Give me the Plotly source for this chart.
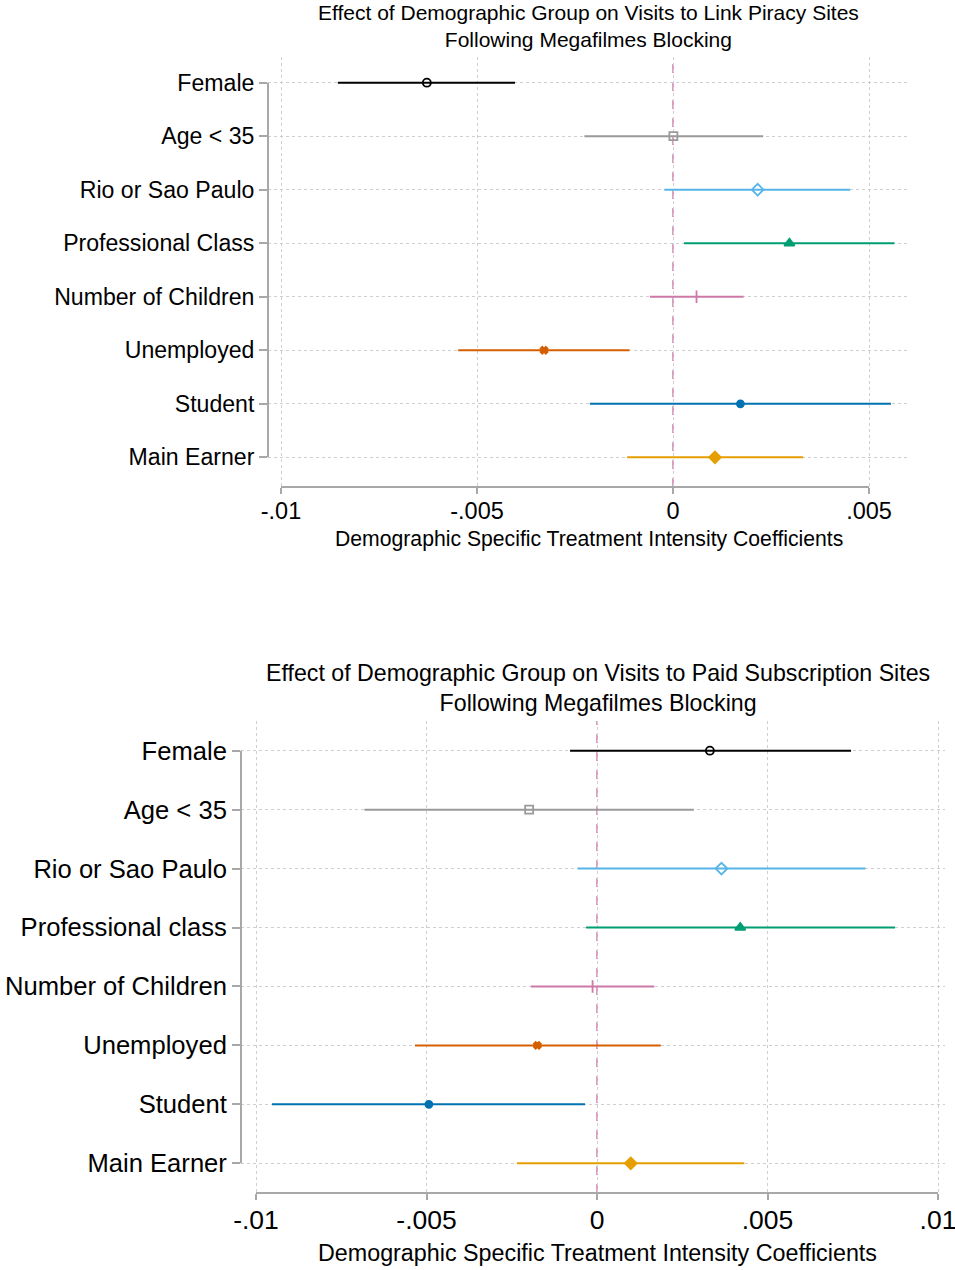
import plotly.graph_objects as go

# ---------------- data ----------------
categories_top = ["Female", "Age < 35", "Rio or Sao Paulo", "Professional Class",
                  "Number of Children", "Unemployed", "Student", "Main Earner"]
coef_top = [-0.00628, 0.00001, 0.00216, 0.00297, 0.00060, -0.00329, 0.00172, 0.00107]
lo_top = [-0.00855, -0.00226, -0.00022, 0.00028, -0.00059, -0.00548, -0.00212, -0.00117]
hi_top = [-0.00403, 0.00230, 0.00452, 0.00565, 0.00180, -0.00111, 0.00556, 0.00332]

categories_bot = ["Female", "Age < 35", "Rio or Sao Paulo", "Professional class",
                  "Number of Children", "Unemployed", "Student", "Main Earner"]
coef_bot = [0.00331, -0.00199, 0.00365, 0.00420, -0.00013, -0.00175, -0.00493, 0.00099]
lo_bot = [-0.00079, -0.00682, -0.00057, -0.00032, -0.00194, -0.00534, -0.00953, -0.00235]
hi_bot = [0.00745, 0.00284, 0.00787, 0.00874, 0.00168, 0.00187, -0.00035, 0.00432]

x_ticks_top = [-0.01, -0.005, 0, 0.005]
x_ticklabels_top = ["-.01", "-.005", "0", ".005"]
x_ticks_bot = [-0.01, -0.005, 0, 0.005, 0.01]
x_ticklabels_bot = ["-.01", "-.005", "0", ".005", ".01"]

title_top = "Effect of Demographic Group on Visits to Link Piracy Sites<br>Following Megafilmes Blocking"
title_bot = "Effect of Demographic Group on Visits to Paid Subscription Sites<br>Following Megafilmes Blocking"
x_title = "Demographic Specific Treatment Intensity Coefficients"

# ---------------- styles ----------------
colors = ["#000000", "#9a9a9a", "#56B4E9", "#009E73", "#CC79A7", "#D55E00", "#0072B2", "#E69F00"]
symbols = ["circle-open", "square-open", "diamond-open", "triangle-up", "line-ns",
           "x", "circle", "diamond"]
sizes = [8, 8, 9, 9, 9, 6, 7, 9]

W, H = 955, 1270
FONT = "Liberation Sans, Arial, sans-serif"
AX_GRAY = "#a8a8a8"
GRID = "#cfcfcf"

fig = go.Figure()

def add_panel(cats, coef, lo, hi, xa, ya):
    n = len(cats)
    for i in range(n):
        ypos = n - i
        fig.add_trace(go.Scatter(
            x=[coef[i]], y=[ypos], mode="markers",
            xaxis=xa, yaxis=ya, showlegend=False,
            marker=dict(symbol=symbols[i], size=sizes[i], color=colors[i],
                        line=dict(color=colors[i], width=1.8)),
            error_x=dict(type="data", symmetric=False,
                         array=[hi[i] - coef[i]], arrayminus=[coef[i] - lo[i]],
                         width=0, thickness=2, color=colors[i]),
        ))

add_panel(categories_top, coef_top, lo_top, hi_top, "x", "y")
add_panel(categories_bot, coef_bot, lo_bot, hi_bot, "x2", "y2")

def px_x(p):
    return p / W

def px_y(p):
    return 1 - p / H

common_x = dict(showline=False, zeroline=False, showgrid=True, gridcolor=GRID,
                griddash="dot", gridwidth=1, ticks="outside", ticklen=6,
                tickwidth=1.5, tickcolor=AX_GRAY, automargin=False,
                ticklabeloverflow="allow", ticklabelstandoff=-3)
common_y = dict(showline=False, zeroline=False, showgrid=True, gridcolor=GRID,
                griddash="dot", gridwidth=1, ticks="outside", ticklen=8,
                tickwidth=1.5, tickcolor=AX_GRAY, automargin=False,
                ticklabeloverflow="allow")

n = len(categories_top)
fig.update_layout(
    width=W, height=H,
    margin=dict(l=0, r=0, t=0, b=0),
    paper_bgcolor="white", plot_bgcolor="white",
    showlegend=False,
    xaxis=dict(common_x, domain=[px_x(268), px_x(908)], anchor="y",
               range=[-0.010332, 0.005995],
               tickvals=x_ticks_top, ticktext=x_ticklabels_top,
               tickfont=dict(family=FONT, color="#000000", size=23.5)),
    yaxis=dict(common_y, domain=[px_y(487), px_y(57)], anchor="x",
               range=[0.445, 8.48],
               tickvals=list(range(n, 0, -1)), ticktext=categories_top,
               tickfont=dict(family=FONT, color="#000000", size=23.1)),
    xaxis2=dict(common_x, domain=[px_x(241), px_x(945)], anchor="y2",
                range=[-0.01044, 0.010205],
                tickvals=x_ticks_bot, ticktext=x_ticklabels_bot,
                tickfont=dict(family=FONT, color="#000000", size=26.5)),
    yaxis2=dict(common_y, domain=[px_y(1193), px_y(721)], anchor="x2",
                range=[0.496, 8.504],
                tickvals=list(range(n, 0, -1)), ticktext=categories_bot,
                tickfont=dict(family=FONT, color="#000000", size=25.6)),
)

shapes = []
for xa, ya, tickmin, tickmax in [("x", "y", x_ticks_top[0], x_ticks_top[-1]),
                                 ("x2", "y2", x_ticks_bot[0], x_ticks_bot[-1])]:
    # x axis line spanning tick range
    shapes.append(dict(type="line", xref=xa, yref=f"{ya} domain",
                       x0=tickmin, x1=tickmax, y0=0, y1=0,
                       line=dict(color=AX_GRAY, width=2)))
    # y axis line spanning category range
    shapes.append(dict(type="line", xref=f"{xa} domain", yref=ya,
                       x0=0, x1=0, y0=1, y1=n,
                       line=dict(color=AX_GRAY, width=2)))
    # reference line at zero
    shapes.append(dict(type="line", xref=xa, yref=f"{ya} domain",
                       x0=0, x1=0, y0=0, y1=1,
                       line=dict(color="#D67BB0", width=1.5, dash="dash"),
                       layer="below"))
fig.update_layout(shapes=shapes)

annotations = [
    dict(text=title_top, x=px_x(588), y=px_y(26), xref="paper", yref="paper",
         showarrow=False, xanchor="center", yanchor="middle",
         font=dict(family=FONT, size=21, color="#000000")),
    dict(text=x_title, x=px_x(588.5), y=px_y(539), xref="paper", yref="paper",
         showarrow=False, xanchor="center", yanchor="middle",
         font=dict(family=FONT, size=21.2, color="#000000")),
    dict(text=title_bot, x=px_x(597.5), y=px_y(688), xref="paper", yref="paper",
         showarrow=False, xanchor="center", yanchor="middle",
         font=dict(family=FONT, size=23.2, color="#000000")),
    dict(text=x_title, x=px_x(597), y=px_y(1253), xref="paper", yref="paper",
         showarrow=False, xanchor="center", yanchor="middle",
         font=dict(family=FONT, size=23.3, color="#000000")),
]
fig.update_layout(annotations=annotations)

fig.write_html("out.html")
